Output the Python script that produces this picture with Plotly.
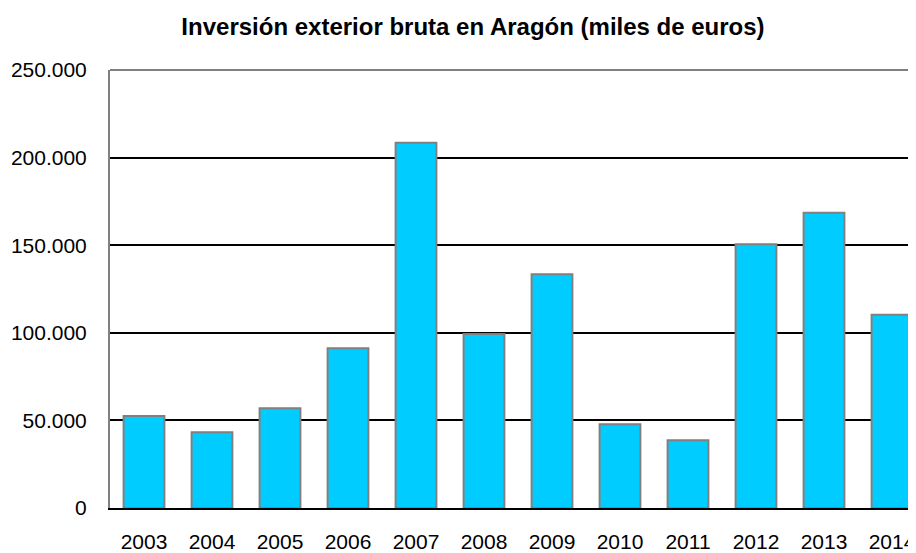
import plotly.graph_objects as go

years = ["2003", "2004", "2005", "2006", "2007", "2008", "2009", "2010", "2011", "2012", "2013", "2014"]
values = [52500, 43200, 56900, 91200, 208500, 99300, 133400, 47800, 38600, 150500, 168500, 110300]
tick_vals = [0, 50000, 100000, 150000, 200000, 250000]
tick_text = ["0", "50.000", "100.000", "150.000", "200.000", "250.000"]

# the page adds an 8px body margin, so the figure is sized 908x545
W, H = 908, 545

fig = go.Figure()
fig.add_trace(go.Bar(
    x=list(range(len(years))), y=values,
    marker=dict(color="#00CCFF", line=dict(color="#808080", width=2)),
    width=0.6,
))

fig.update_layout(
    width=W, height=H,
    margin=dict(l=102, r=0, t=62, b=45),
    paper_bgcolor="white", plot_bgcolor="white",
    showlegend=False,
    font=dict(family="Liberation Sans, Arial, sans-serif", color="black", size=21),
    title=dict(text="<b>Inversión exterior bruta en Aragón (miles de euros)</b>",
               x=465/W, xanchor="center", xref="container",
               y=1 - 19/H, yanchor="middle", yref="container",
               font=dict(size=24, family="Liberation Sans, Arial, sans-serif")),
    bargap=0.4,
)
fig.update_xaxes(
    range=[-0.5, -0.5 + 806/68], tickmode="array",
    tickvals=list(range(len(years))), ticktext=years,
    showgrid=False, showline=True, linecolor="black", linewidth=2,
    ticks="", ticklabelstandoff=14, zeroline=False, automargin=False,
)
fig.update_yaxes(
    range=[0, 250000], tickmode="array", tickvals=tick_vals, ticktext=tick_text,
    showgrid=True, gridcolor="black", gridwidth=2,
    showline=True, linecolor="#808080", linewidth=2,
    ticks="", ticklabelstandoff=17, zeroline=False, automargin=False,
)
fig.add_shape(type="line", xref="paper", yref="paper", x0=0, x1=1, y0=1, y1=1,
              line=dict(color="#808080", width=2))

fig.write_html("out.html")
